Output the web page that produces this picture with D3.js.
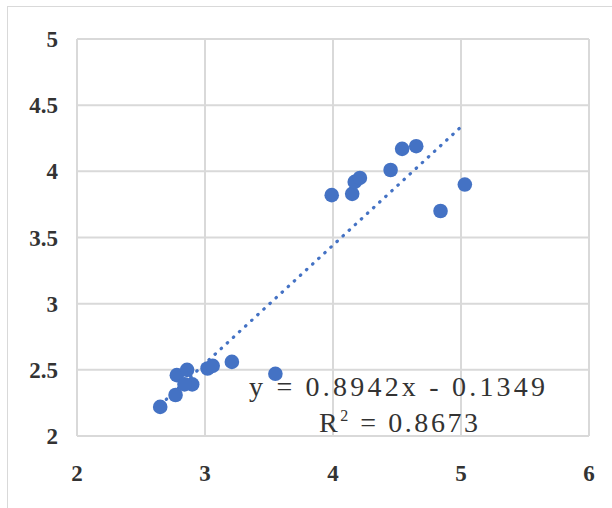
<!DOCTYPE html>
<html>
<head>
<meta charset="utf-8">
<script src="https://cdn.jsdelivr.net/npm/d3@7"></script>
<style>
  body { margin: 0; background: #fff; }
</style>
</head>
<body>
<div id="chart"></div>
<script>
// scatter values
var xValues = [2.65, 2.77, 2.78, 2.86, 2.90, 2.84, 3.02, 3.06, 3.21, 3.55,
               3.99, 4.15, 4.17, 4.21, 4.45, 4.54, 4.65, 4.84, 5.03];
var yValues = [2.22, 2.31, 2.46, 2.50, 2.39, 2.39, 2.51, 2.53, 2.56, 2.47,
               3.82, 3.83, 3.92, 3.95, 4.01, 4.17, 4.19, 3.70, 3.90];
var xTicks = [2, 3, 4, 5, 6];
var yTicks = [2, 2.5, 3, 3.5, 4, 4.5, 5];
var slope = 0.8942, intercept = -0.1349;
var eqLines = ['y = 0.8942x - 0.1349', 'R2 = 0.8673'];

var width = 612, height = 508;
var margin = {top: 39, right: 23, bottom: 72, left: 77};

var svg = d3.select("#chart").append("svg")
    .attr("width", width)
    .attr("height", height);

// outer frame
svg.append("rect")
    .attr("x", 7.5).attr("y", 6.5)
    .attr("width", 640).attr("height", 540)
    .attr("fill", "none").attr("stroke", "#d9d9d9");

var x = d3.scaleLinear().domain([2, 6]).range([margin.left, width - margin.right]);
var y = d3.scaleLinear().domain([2, 5]).range([height - margin.bottom, margin.top]);

var grid = svg.append("g").attr("stroke", "#d9d9d9").attr("stroke-width", 2);
grid.selectAll(".vx").data(xTicks).enter().append("line")
    .attr("x1", function(d) { return x(d); }).attr("x2", function(d) { return x(d); })
    .attr("y1", y(2)).attr("y2", y(5));
grid.selectAll(".hy").data(yTicks).enter().append("line")
    .attr("x1", x(2)).attr("x2", x(6))
    .attr("y1", function(d) { return y(d); }).attr("y2", function(d) { return y(d); });

// tick labels
var tickFont = "'Liberation Serif', 'DejaVu Serif', serif";
svg.append("g").selectAll("text").data(yTicks).enter().append("text")
    .attr("x", 58)
    .attr("y", function(d) { return y(d); })
    .attr("dy", "0.35em")
    .attr("text-anchor", "end")
    .attr("font-family", tickFont).attr("font-weight", "bold").attr("font-size", 23)
    .attr("fill", "#333")
    .text(function(d) { return d; });

svg.append("g").selectAll("text").data(xTicks).enter().append("text")
    .attr("x", function(d) { return x(d); })
    .attr("y", 473)
    .attr("dy", "0.35em")
    .attr("text-anchor", "middle")
    .attr("font-family", tickFont).attr("font-weight", "bold").attr("font-size", 23)
    .attr("fill", "#333")
    .text(function(d) { return d; });

// trendline
var xMin = d3.min(xValues), xMax = d3.max(xValues);
svg.append("line")
    .attr("x1", x(xMin)).attr("y1", y(slope * xMin + intercept))
    .attr("x2", x(xMax)).attr("y2", y(slope * xMax + intercept))
    .attr("stroke", "#4472c4")
    .attr("stroke-width", 3.2)
    .attr("stroke-linecap", "round")
    .attr("stroke-dasharray", "0.5 7.8");

// equation label
var eq = svg.append("g")
    .attr("font-family", tickFont)
    .attr("font-size", 28)
    .attr("fill", "#333");
eq.append("text")
    .attr("x", 249).attr("y", 396)
    .attr("textLength", 296).attr("lengthAdjust", "spacing")
    .text(eqLines[0]);
var r2 = eq.append("text")
    .attr("x", 319).attr("y", 432)
    .attr("textLength", 159).attr("lengthAdjust", "spacing");
r2.append("tspan").text("R");
r2.append("tspan").attr("font-size", 16).attr("dy", -11).text("2");
r2.append("tspan").attr("dy", 11).text(eqLines[1].slice(2));

// points
svg.append("g").selectAll("circle")
    .data(xValues.map(function(d, i) { return [d, yValues[i]]; }))
    .enter().append("circle")
    .attr("cx", function(d) { return x(d[0]); })
    .attr("cy", function(d) { return y(d[1]); })
    .attr("r", 7.3)
    .attr("fill", "#4472c4");
</script>
</body>
</html>
